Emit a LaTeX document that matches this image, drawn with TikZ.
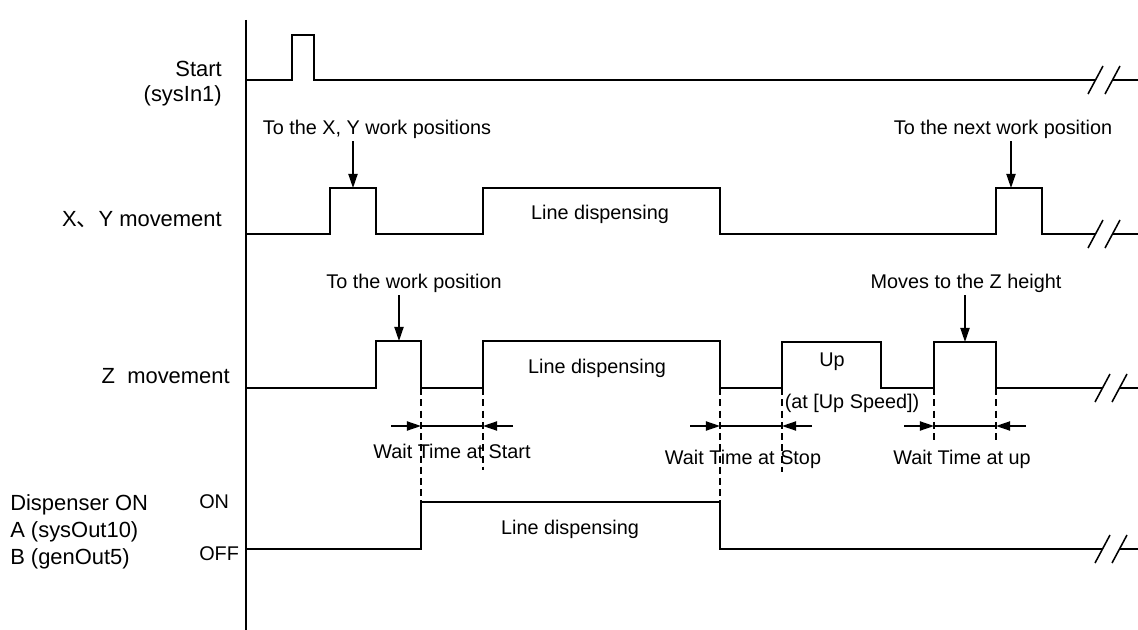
\documentclass[tikz,border=0pt]{standalone}
\usepackage{fontspec}
\setmainfont{Liberation Sans}
\newfontfamily\cjk{Noto Sans CJK JP}
\usetikzlibrary{arrows.meta}

\begin{document}
\begin{tikzpicture}[
    x=0.025cm, y=-0.025cm,
    wave/.style   = {line width=1.3pt, line join=miter},
    marker/.style = {line width=1.1pt, dash pattern=on 5pt off 3pt},
    arrow/.style  = {-{Triangle[length=10pt,width=6.5pt]}, line width=1.1pt},
    sig/.style    = {anchor=east, align=right, inner sep=0pt, font=\fontsize{15.6}{17.8}\selectfont},
    note/.style   = {inner sep=2pt, font=\fontsize{14.1}{17}\selectfont},
    brk/.style    = {line width=1.1pt}
]

\useasboundingbox (0,0) rectangle (1138,630);

% --- Axis ---
\coordinate (axtop) at (246,20);
\coordinate (axbot) at (246,630);
\draw[wave] (axtop) -- (axbot);

% --- Signal names ---
\node[sig] (startlbl) at (222,84) {Start\\(sysIn1)};
\node[sig] (xylbl) at (222,220) {X{\cjk 、}Y movement};
\node[sig] (zlbl) at (230,376) {Z\ \ movement};
\node[anchor=west, align=left, inner sep=0pt, font=\fontsize{15.6}{19.2}\selectfont] (displbl) at (10,532) {Dispenser ON\\A (sysOut10)\\B (genOut5)};
\node[note, anchor=west, inner sep=0pt] (onlbl) at (199,502) {ON};
\node[note, anchor=west, inner sep=0pt] (offlbl) at (199,554) {OFF};

% --- Waveforms ---
\draw[wave] (246,80) -- (292,80) -- (292,35) -- (314,35) -- (314,80) -- (1096,80);
\draw[wave] (246,234) -- (330,234) -- (330,188) -- (376,188) -- (376,234) -- (483,234) -- (483,188)
    -- (720,188) -- (720,234) -- (996,234) -- (996,188) -- (1042,188) -- (1042,234) -- (1096,234);
\draw[wave] (246,388) -- (376,388) -- (376,341) -- (421,341) -- (421,388) -- (483,388) -- (483,341)
    -- (720,341) -- (720,388) -- (782,388) -- (782,342) -- (881,342) -- (881,388) -- (934,388)
    -- (934,342) -- (996,342) -- (996,388) -- (1103,388);
\draw[wave] (246,549) -- (421,549) -- (421,502) -- (720,502) -- (720,549) -- (1103,549);

% --- Breaks ---
\foreach \bx/\by in {1088/80, 1088/234, 1095/388, 1095/549} {
    \draw[brk] (\bx,\by+14) -- (\bx+15,\by-14);
    \draw[brk] (\bx+17,\by+14) -- (\bx+32,\by-14);
    \draw[wave] (\bx+24,\by) -- (1138,\by);
}

% --- Texts in the pulses ---
\node[note] (xyline) at (600,214) {Line dispensing};
\node[note] (zline) at (597,368) {Line dispensing};
\node[note] (displine) at (570,529) {Line dispensing};
\node[note] (uptxt) at (832,362) {Up};
\node[note] (upspeed) at (852,403) {(at [Up Speed])};

% --- Pointers ---
\node[note] (xypos) at (377,129) {To the X, Y work positions};
\node[note] (nextpos) at (1003,129) {To the next work position};
\node[note] (zpos) at (414,283) {To the work position};
\node[note] (zheight) at (966,283) {Moves to the Z height};
\coordinate (xyhit) at (353,188);
\coordinate (nexthit) at (1011,188);
\coordinate (zhit) at (399,341);
\coordinate (hhit) at (965,342);
\draw[arrow] (xypos.south -| xyhit) -- (xyhit);
\draw[arrow] (nextpos.south -| nexthit) -- (nexthit);
\draw[arrow] (zpos.south -| zhit) -- (zhit);
\draw[arrow] (zheight.south -| hhit) -- (hhit);

% --- Wait times ---
\draw[marker] (421,388) -- (421,502);
\draw[marker] (483,388) -- (483,470);
\draw[marker] (720,388) -- (720,502);
\draw[marker] (782,388) -- (782,472);
\draw[marker] (934,388) -- (934,440);
\draw[marker] (996,388) -- (996,440);

\coordinate (ws1) at (421,426);
\coordinate (ws2) at (483,426);
\coordinate (wp1) at (720,426);
\coordinate (wp2) at (782,426);
\coordinate (wu1) at (934,426);
\coordinate (wu2) at (996,426);
\draw[arrow] (ws1) ++(-30,0) -- (ws1);
\draw[arrow] (ws2) ++(30,0) -- (ws2);
\draw[line width=1.1pt] (ws1) -- (ws2);
\draw[arrow] (wp1) ++(-30,0) -- (wp1);
\draw[arrow] (wp2) ++(30,0) -- (wp2);
\draw[line width=1.1pt] (wp1) -- (wp2);
\draw[arrow] (wu1) ++(-30,0) -- (wu1);
\draw[arrow] (wu2) ++(30,0) -- (wu2);
\draw[line width=1.1pt] (wu1) -- (wu2);

\node[note] (wstart) at (452,451) {Wait Time at Start};
\node[note] (wstop) at (743,459) {Wait Time at Stop};
\node[note] (wup) at (962,459) {Wait Time at up};

\end{tikzpicture}
\end{document}
